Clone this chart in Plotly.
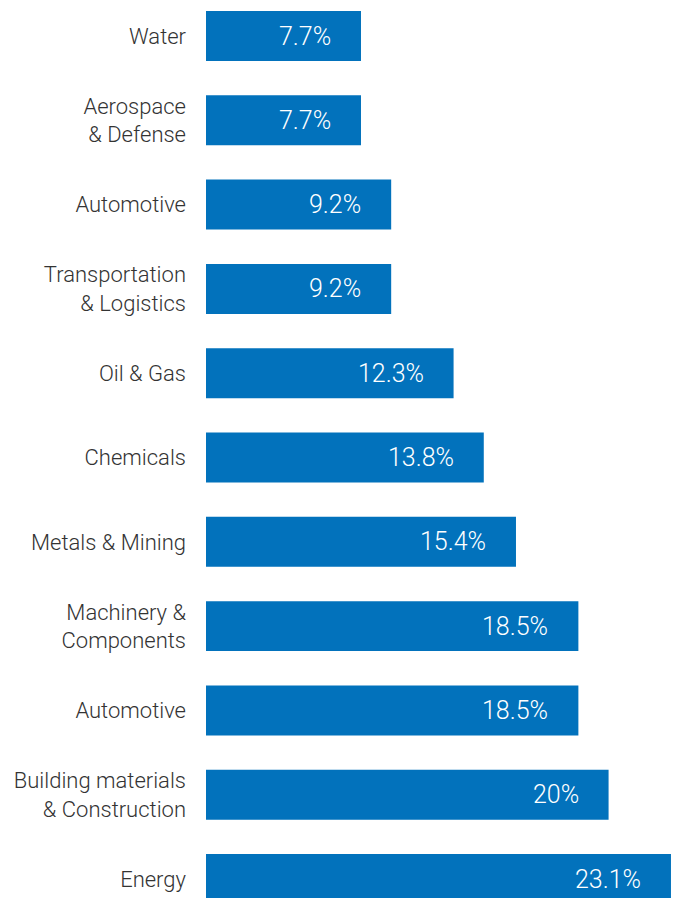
import plotly.graph_objects as go

# Share of companies by industry (top to bottom)
industries = [
    "Water",
    "Aerospace<br>& Defense",
    "Automotive",
    "Transportation<br>& Logistics",
    "Oil & Gas",
    "Chemicals",
    "Metals & Mining",
    "Machinery &<br>Components",
    "Automotive",
    "Building materials<br>& Construction",
    "Energy",
]
shares = [7.7, 7.7, 9.2, 9.2, 12.3, 13.8, 15.4, 18.5, 18.5, 20, 23.1]

positions = list(range(len(industries)))
labels = [f"{v:g}%" for v in shares]

BAR_COLOR = "#0272BC"
FONT = "Roboto"

fig = go.Figure(
    go.Bar(
        x=shares,
        y=positions,
        orientation="h",
        width=0.593,
        marker=dict(color=BAR_COLOR, line=dict(width=0)),
        hoverinfo="skip",
    )
)

# value labels inside the bars, near their right ends
for pos, val, lab in zip(positions, shares, labels):
    fig.add_annotation(
        x=val,
        y=pos,
        text=lab,
        showarrow=False,
        xanchor="right",
        yanchor="middle",
        xshift=-28,
        font=dict(family=FONT, size=25, color="white", weight=300),
    )

fig.update_layout(
    width=675,
    height=898,
    margin=dict(l=206, r=0, t=0, b=0),
    paper_bgcolor="white",
    plot_bgcolor="white",
    showlegend=False,
    font=dict(family=FONT, color="#333333"),
)

fig.update_xaxes(
    range=[0, 23.3],
    visible=False,
    showgrid=False,
    zeroline=False,
)

fig.update_yaxes(
    range=[10.225, -0.427],
    tickmode="array",
    tickvals=positions,
    ticktext=industries,
    tickfont=dict(family=FONT, size=22, color="#333333", weight=300),
    ticklabelstandoff=19,
    showgrid=False,
    zeroline=False,
    showline=False,
    ticks="",
)

fig.write_html("out.html")
